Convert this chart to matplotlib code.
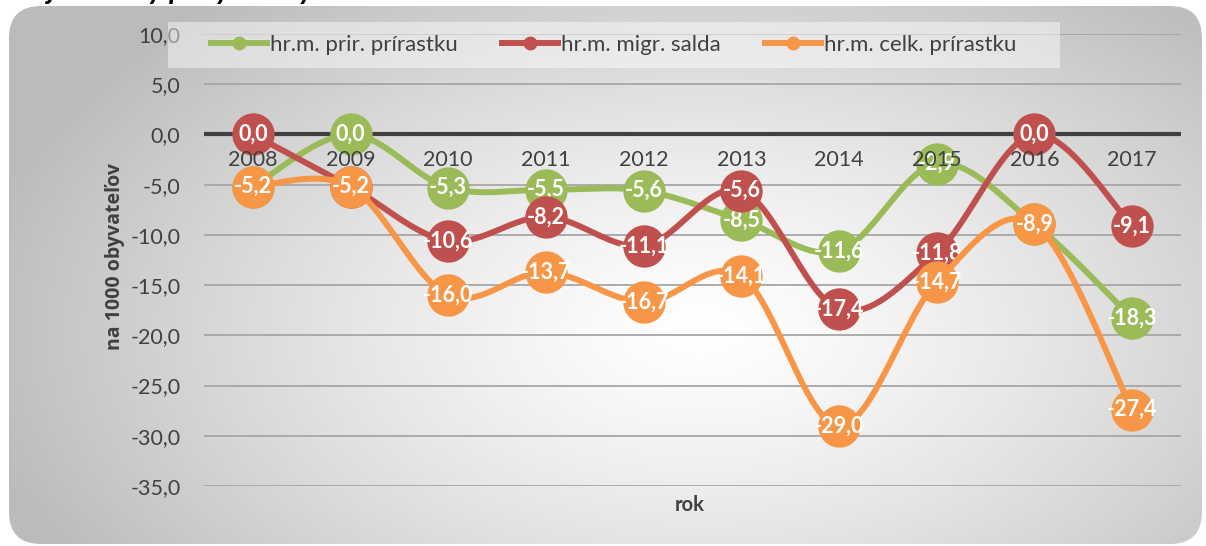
import numpy as np
import matplotlib
matplotlib.use("Agg")
import matplotlib.pyplot as plt
from matplotlib.patches import FancyBboxPatch, Rectangle
from matplotlib.lines import Line2D

plt.rcParams['font.family'] = ['Lato', 'DejaVu Sans']

# data
years = ['2008', '2009', '2010', '2011', '2012', '2013', '2014', '2015', '2016', '2017']
prir = [-5.2, 0.0, -5.3, -5.5, -5.6, -8.5, -11.6, -2.9, -8.9, -18.3]
migr = [0.0, -5.2, -10.6, -8.2, -11.1, -5.6, -17.4, -11.8, 0.0, -9.1]
celk = [-5.2, -5.2, -16.0, -13.7, -16.7, -14.1, -29.0, -14.7, -8.9, -27.4]
series_names = ['hr.m. prir. prírastku', 'hr.m. migr. salda', 'hr.m. celk. prírastku']
colors = ['#9BBB59', '#C0504D', '#F79646']
y_ticks = [10, 5, 0, -5, -10, -15, -20, -25, -30, -35]

W, H = 1206, 546
fig = plt.figure(figsize=(W / 100, H / 100), dpi=100)
fig.patch.set_facecolor('white')

# gradient background inside rounded box
bg = fig.add_axes([0, 0, 1, 1])
bg.set_xlim(0, W)
bg.set_ylim(H, 0)
bg.axis('off')
gx, gy = np.meshgrid(np.arange(W), np.arange(H))
r = np.sqrt(((gx - 700) / 640.0) ** 2 + ((gy - 330) / 380.0) ** 2)
g = 1 - 0.22 * np.clip(r, 0, 1.15) ** 1.3
img = bg.imshow(np.dstack([g, g, g]), extent=(0, W, H, 0), zorder=0)
box = FancyBboxPatch((9, 6), 1193, 538, boxstyle="round,pad=0,rounding_size=32",
                     transform=bg.transData, facecolor='none', edgecolor='none')
bg.add_patch(box)
img.set_clip_path(box)

# cut-off caption above the chart
fig.text(10 / W, 1 + 1 / H, 'Obj. 2 Miery pohybu obyvateľstva', fontsize=21,
         style='italic', fontweight='bold', va='baseline', ha='left', color='black')

# main axes
left, right = 204 / W, 1181 / W
top, bottom = 1 - 34 / H, 1 - 486 / H
ax = fig.add_axes([left, bottom, right - left, top - bottom])
ax.patch.set_alpha(0)
ax.set_xlim(-0.5, len(years) - 0.5)
ax.set_ylim(-35, 10)
ax.set_yticks(y_ticks)
ax.set_yticklabels([f"{t:.1f}".replace('.', ',') for t in y_ticks], fontsize=15.5, color='#404040')
ax.tick_params(axis='y', length=0, pad=17)
ax.set_xticks([])
for s in ax.spines.values():
    s.set_visible(False)
for t in y_ticks:
    if t != 0:
        ax.axhline(t, color='#a6a6a6', lw=1.3, zorder=1)
ax.axhline(0, color='#404040', lw=3, zorder=2)


def smooth(xs, ys, n=30):
    pts = np.column_stack([xs, ys]).astype(float)
    pad = np.vstack([pts[0], pts, pts[-1]])
    t = np.linspace(0, 1, n)[:, None]
    out = []
    for i in range(len(pts) - 1):
        p0, p1, p2, p3 = pad[i], pad[i + 1], pad[i + 2], pad[i + 3]
        c1 = p1 + (p2 - p0) / 6
        c2 = p2 - (p3 - p1) / 6
        seg = (1 - t) ** 3 * p1 + 3 * (1 - t) ** 2 * t * c1 + 3 * (1 - t) * t ** 2 * c2 + t ** 3 * p2
        out.append(seg if i == 0 else seg[1:])
    return np.vstack(out)


x = np.arange(len(years))
for k, (vals, col) in enumerate(zip([prir, migr, celk], colors)):
    z = 3 + k
    cur = smooth(x, vals)
    ax.plot(cur[:, 0], cur[:, 1], color=col, lw=4.3, solid_capstyle='round', zorder=z)
    ax.plot(x, vals, 'o', color=col, markersize=30.5, markeredgewidth=0, zorder=z + 0.1)
    for xi, v in zip(x, vals):
        ax.text(xi, v, f"{v:.1f}".replace('.', ','), color='white', fontsize=15.5,
                fontweight='bold', ha='center', va='center', zorder=z + 0.2)

# category labels next to the zero line
for xi, yr in zip(x, years):
    ax.annotate(yr, (xi, 0), xytext=(0, -11), textcoords='offset points',
                ha='center', va='top', fontsize=15.5, color='#404040', zorder=10)

fig.text(115 / W, 1 - 256 / H, 'na 1000 obyvateľov', rotation=90, fontsize=14,
         fontweight='bold', color='#404040', ha='center', va='center',
         family=['Open Sans', 'DejaVu Sans'])
fig.text(690 / W, 1 - 505 / H, 'rok', fontsize=14.5, fontweight='bold',
         color='#404040', ha='center', va='center')

# semi-transparent legend backdrop, over the axes
fig.add_artist(Rectangle((168 / W, 1 - 68 / H), 892 / W, 46 / H, transform=fig.transFigure,
                         facecolor='white', alpha=0.45, edgecolor='none', zorder=2))

handles = [Line2D([0], [0], color=c, lw=4.3, marker='o', markersize=9) for c in colors]
leg = fig.legend(handles, series_names, loc='center left', ncol=3,
                 bbox_to_anchor=(211 / W, 1 - 45 / H), fontsize=16, frameon=False,
                 handlelength=2.5, handletextpad=0.15, columnspacing=2.0,
                 borderpad=0, borderaxespad=0)
leg.set_zorder(5)
for t in leg.get_texts():
    t.set_color('#404040')

fig.savefig('out.png', dpi=100)
